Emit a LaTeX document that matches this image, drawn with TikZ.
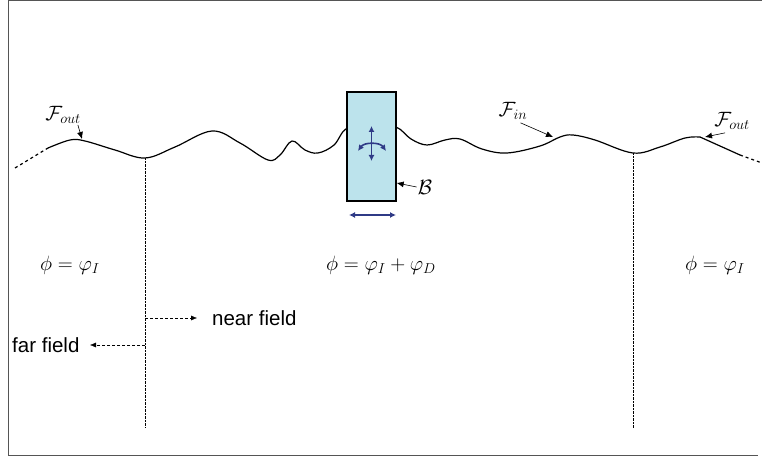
\documentclass[tikz,border=0pt]{standalone}
\usepackage{fontspec}
\setsansfont{Liberation Sans}
\usetikzlibrary{arrows.meta,positioning}
\definecolor{Body}{HTML}{BCE3EC}
\definecolor{Navy}{HTML}{2F3A86}
\definecolor{Frame}{HTML}{555555}

\begin{document}
\begin{tikzpicture}[x=1pt,y=-1pt,
    lbl/.style={inner sep=1pt,font=\fontsize{21}{24}\selectfont},
    word/.style={inner sep=1pt,font=\sffamily\fontsize{20.5}{24}\selectfont},
    ptr/.style={-{Latex[length=7pt,width=6pt]},semithick},
    fieldarr/.style={-{Latex[length=6pt,width=5pt]},densely dashed,thin},
    guide/.style={densely dotted,thin},
    surf/.style={line width=1.2pt},
    bodybox/.style={draw,line width=1.4pt,fill=Body,minimum width=49pt,minimum height=109pt,inner sep=0pt},
    move/.style={{Latex[length=6pt,width=6pt]}-{Latex[length=6pt,width=6pt]},Navy,line width=1.6pt}
  ]
  \useasboundingbox (0,0) rectangle (762,462);
  % frame
  \draw[Frame,line width=0.8pt] (762,0.5) -- (8,0.5) -- (8,455) -- (758,455);

  % free surface
  \draw[surf,dashed] (15,168) -- (48,148);
  \draw[surf] plot[smooth,tension=0.6] coordinates {
    (48,148) (70,140) (85,141) (115,150) (145,158) (175,147) (212,131)
    (240,143) (268,160) (280,155) (292,141) (305,150) (318,153) (334,145)
    (347,128) (371,124) (396,127) (411,139) (427,145) (445,140) (460,139)
    (482,149) (507,153) (540,146) (560,137) (573,135) (595,140) (633,153)
    (660,147) (685,138) (700,137)};
  \draw[surf] (700,137) -- (740,155);
  \draw[surf,dashed] (740,155) -- (762,163);

  \coordinate (fl) at (145,158);
  \coordinate (fr) at (633,153);
  \coordinate (fl-end) at (145,428);
  \coordinate (fr-end) at (633,428);
  \draw[guide] (fl) -- (fl-end);
  \draw[guide] (fr) -- (fr-end);

  % body
  \node[bodybox] (body) at (371.5,146.5) {};
  \coordinate (up) at (371.5,126);
  \coordinate (down) at (371.5,161);
  \draw[move] (up) -- (down);
  \coordinate (armL) at (358,151);
  \coordinate (armR) at (386,151);
  \draw[move] (armL) to[bend left=55] (armR);
  \coordinate (swayL) at (349,215);
  \coordinate (swayR) at (396,215);
  \draw[move,line width=1.2pt] (swayL) -- (swayR);

  % labels on the surface
  \node[lbl] (fout1) at (63,115) {$\mathcal{F}_{out}$};
  \coordinate (fout1-pt) at (82,139);
  \draw[ptr] (fout1.south east) ++(-4,0) -- (fout1-pt);
  \node[lbl] (fin) at (513,111) {$\mathcal{F}_{in}$};
  \coordinate (fin-pt) at (553,137);
  \draw[ptr] (fin.south east) ++(-8,2) -- (fin-pt);
  \node[lbl] (fout2) at (732,121) {$\mathcal{F}_{out}$};
  \coordinate (fout2-pt) at (705,137);
  \draw[ptr] (fout2.south west) ++(12,2) -- (fout2-pt);
  \node[lbl] (blbl) at (425,187) {$\mathcal{B}$};
  \draw[ptr] (blbl.west) -- (body.east |- 0,183);

  % potentials
  \node[lbl] (phil) at (70,265) {$\phi=\varphi_I$};
  \node[lbl] (phim) at (381,265) {$\phi=\varphi_I+\varphi_D$};
  \node[lbl] (phir) at (715,265) {$\phi=\varphi_I$};

  % fields
  \coordinate (nf) at (145,318);
  \coordinate (ff) at (145,345);
  \node[word,anchor=west] (near) at (211,318) {near field};
  \node[word,anchor=west] (far) at (11,345) {far field};
  \draw[fieldarr] (nf) -- ++(52,0);
  \draw[fieldarr] (ff) -- ++(-55,0);
\end{tikzpicture}
\end{document}
